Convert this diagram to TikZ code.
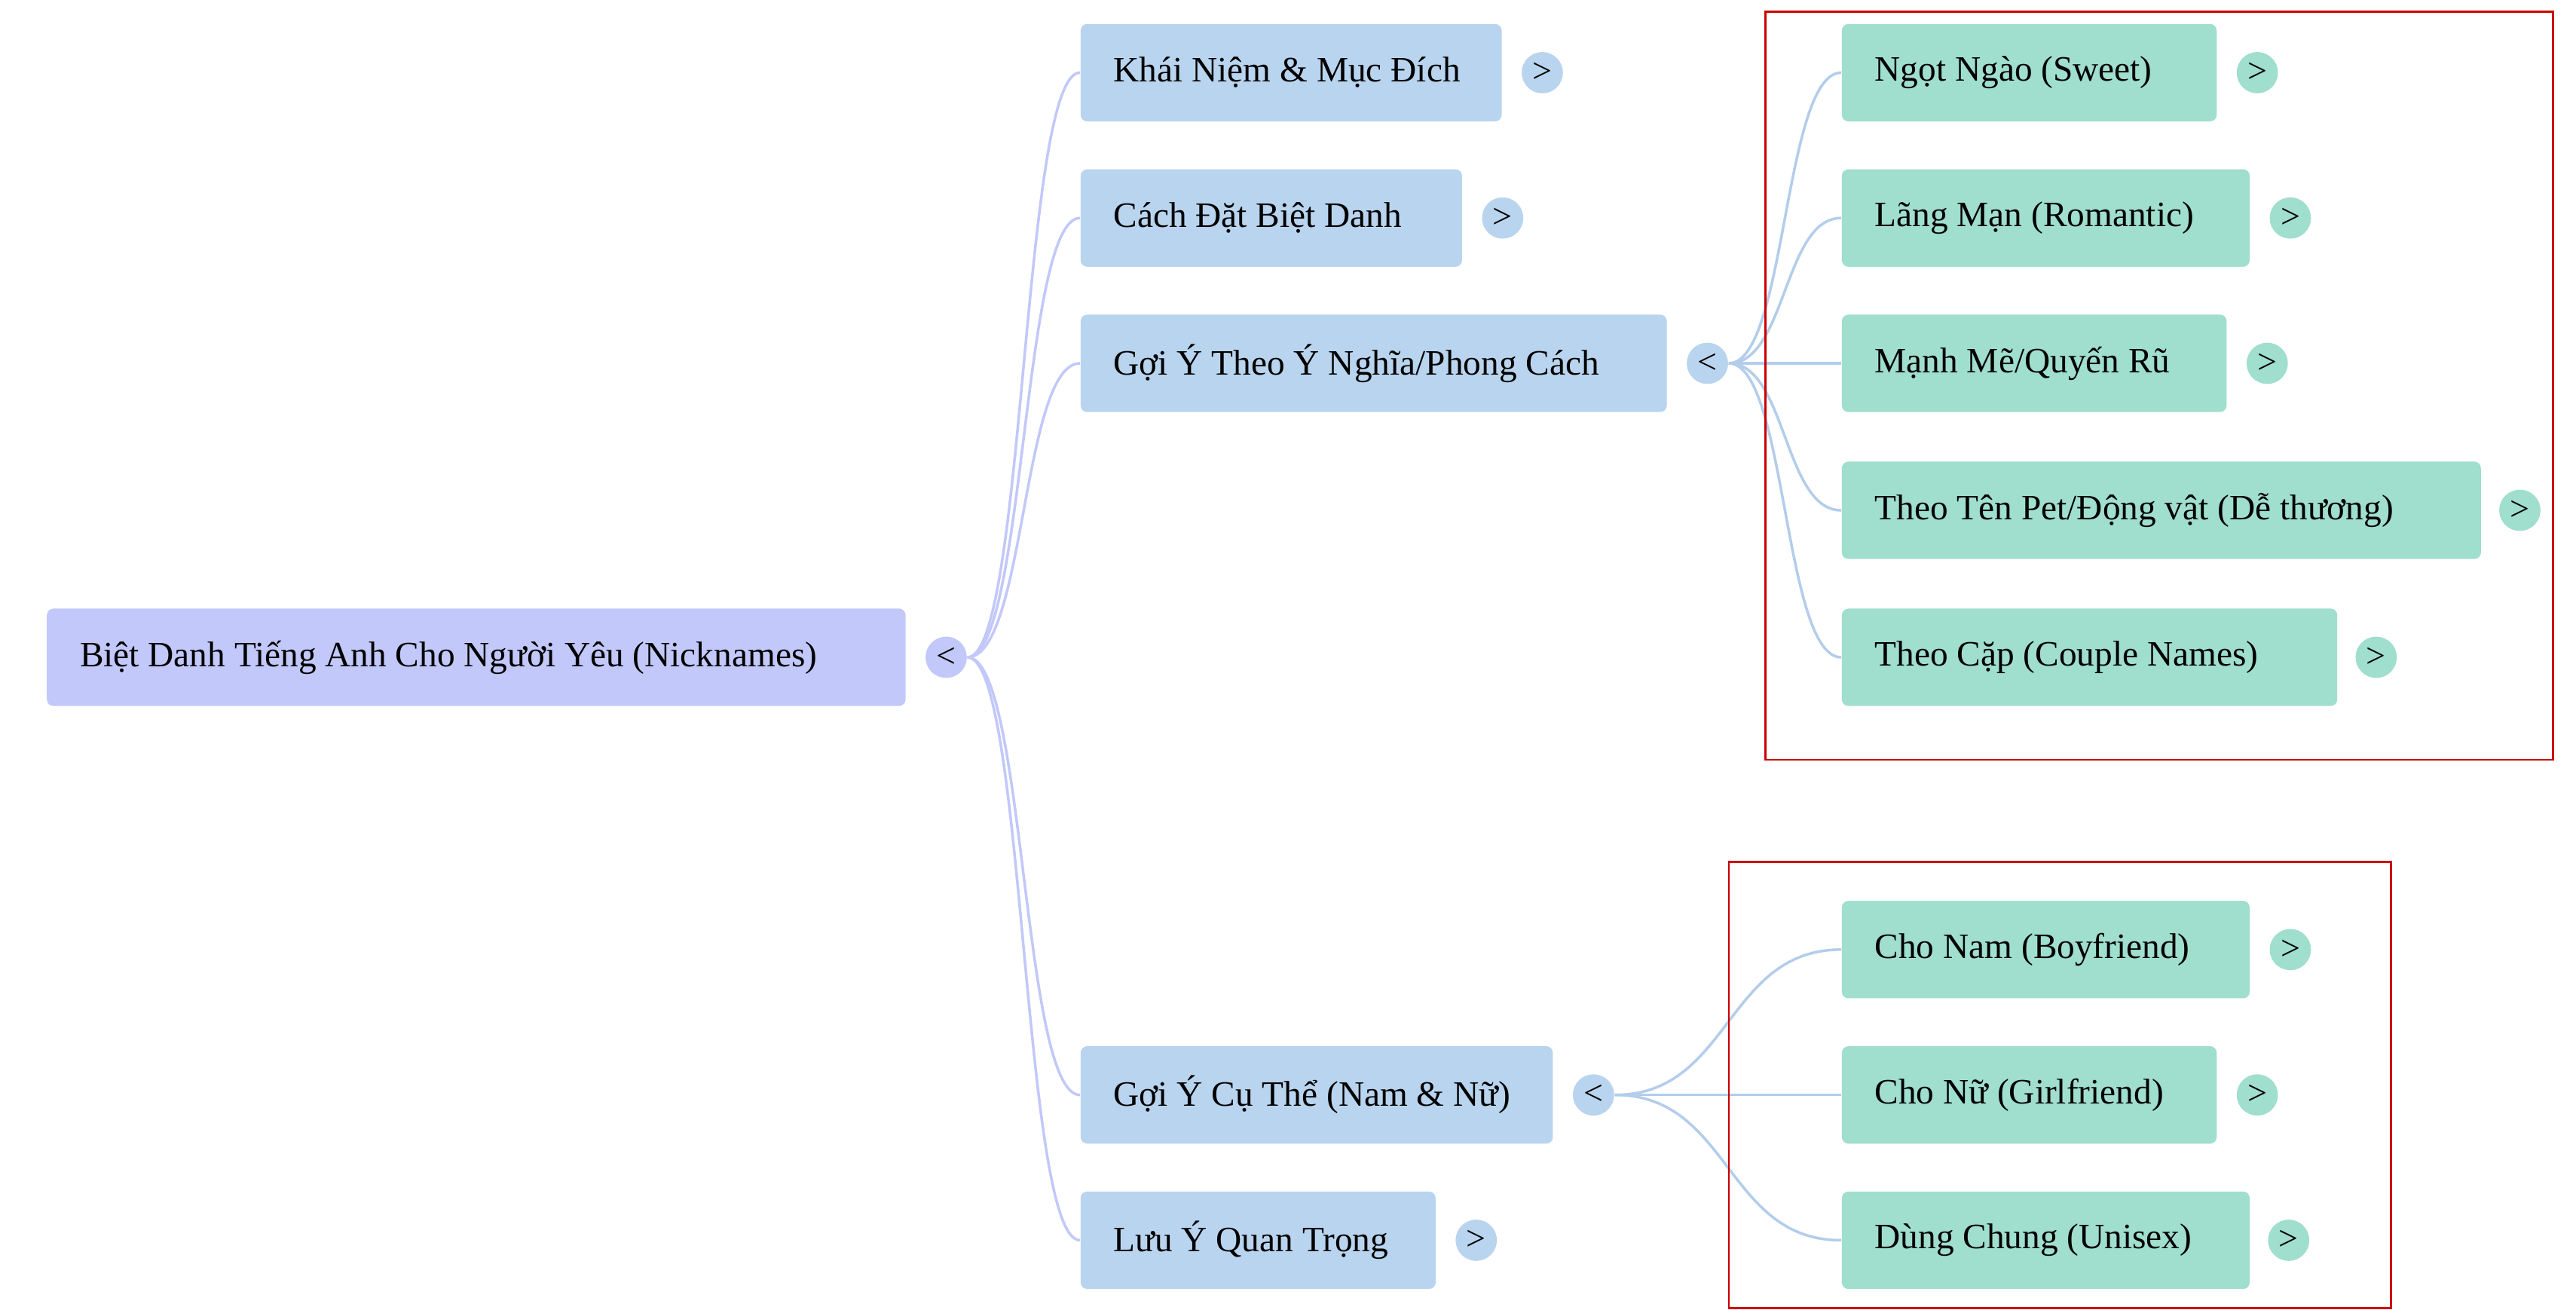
\documentclass[tikz,border=0pt]{standalone}
\usepackage{fontspec}
\setmainfont{Liberation Serif}
\begin{document}
\begin{tikzpicture}[x=0.5pt,y=-0.5pt,
 box/.style={anchor=west,rounded corners=2pt,minimum height=29.5pt,inner sep=0pt},
 txt/.style={anchor=west,inner sep=0pt,font=\fontsize{10.8}{13}\selectfont},
 rootb/.style={box,fill=rootc},
 l1/.style={box,fill=bluec},
 l2/.style={box,fill=greenc},
 tog/.style={circle,minimum size=12.5pt,inner sep=0pt,font=\fontsize{10.5}{12}\selectfont},
 tb/.style={tog,fill=bluec},
 tg/.style={tog,fill=greenc},
 tr/.style={tog,fill=rootc},
 e0/.style={draw=rootc,line width=0.8pt},
 e1/.style={draw=edgeb,line width=0.8pt},
 frame/.style={draw=red!80!black,line width=0.6pt}]
\definecolor{rootc}{HTML}{C2C8FA}
\definecolor{bluec}{HTML}{B9D4EE}
\definecolor{greenc}{HTML}{A0DECE}
\definecolor{edgeb}{HTML}{B3CDEB}
\useasboundingbox (0,0) rectangle (1560,793);
\fill[white] (0,0) rectangle (1560,793);
\node[rootb,minimum width=260pt] (root) at (28,398) {};
\node[tr] (rt) at (573,398) {<};
\node[l1,minimum width=127.5pt] (a) at (654,44) {};
\node[l1,minimum width=115.5pt] (b) at (654,132) {};
\node[l1,minimum width=177.5pt] (c) at (654,220) {};
\node[l1,minimum width=143pt] (d) at (654,663) {};
\node[l1,minimum width=107.5pt] (e) at (654,751) {};
\node[tb] (at) at (934,44) {>};
\node[tb] (bt) at (910,132) {>};
\node[tb] (ct) at (1034,220) {<};
\node[tb] (dt) at (965,663) {<};
\node[tb] (et) at (894,751) {>};
\node[l2,minimum width=113.5pt] (c1) at (1115,44) {};
\node[l2,minimum width=123.5pt] (c2) at (1115,132) {};
\node[l2,minimum width=116.5pt] (c3) at (1115,220) {};
\node[l2,minimum width=193.5pt] (c4) at (1115,309) {};
\node[l2,minimum width=150pt] (c5) at (1115,398) {};
\node[l2,minimum width=123.5pt] (d1) at (1115,575) {};
\node[l2,minimum width=113.5pt] (d2) at (1115,663) {};
\node[l2,minimum width=123.5pt] (d3) at (1115,751) {};
\node[txt] at ([xshift=10pt]root.west) {Biệt Danh Tiếng Anh Cho Người Yêu (Nicknames)};
\node[txt] at ([xshift=10pt]a.west) {Khái Niệm \& Mục Đích};
\node[txt] at ([xshift=10pt]b.west) {Cách Đặt Biệt Danh};
\node[txt] at ([xshift=10pt]c.west) {Gợi Ý Theo Ý Nghĩa/Phong Cách};
\node[txt] at ([xshift=10pt]d.west) {Gợi Ý Cụ Thể (Nam \& Nữ)};
\node[txt] at ([xshift=10pt]e.west) {Lưu Ý Quan Trọng};
\node[txt] at ([xshift=10pt]c1.west) {Ngọt Ngào (Sweet)};
\node[txt] at ([xshift=10pt]c2.west) {Lãng Mạn (Romantic)};
\node[txt] at ([xshift=10pt]c3.west) {Mạnh Mẽ/Quyến Rũ};
\node[txt] at ([xshift=10pt]c4.west) {Theo Tên Pet/Động vật (Dễ thương)};
\node[txt] at ([xshift=10pt]c5.west) {Theo Cặp (Couple Names)};
\node[txt] at ([xshift=10pt]d1.west) {Cho Nam (Boyfriend)};
\node[txt] at ([xshift=10pt]d2.west) {Cho Nữ (Girlfriend)};
\node[txt] at ([xshift=10pt]d3.west) {Dùng Chung (Unisex)};
\node[tg] (c1t) at (1367,44) {>};
\node[tg] (c2t) at (1387,132) {>};
\node[tg] (c3t) at (1373,220) {>};
\node[tg] (c4t) at (1526,309) {>};
\node[tg] (c5t) at (1439,398) {>};
\node[tg] (d1t) at (1387,575) {>};
\node[tg] (d2t) at (1367,663) {>};
\node[tg] (d3t) at (1386,751) {>};
\foreach \n in {a,b,c,d,e}
  \draw[e0] (rt.east) .. controls +(35,0) and +(-35,0) .. (\n.west);
\foreach \n in {c1,c2,c3,c4,c5}
  \draw[e1] (ct.east) .. controls +(35,0) and +(-35,0) .. (\n.west);
\foreach \n in {d1,d2,d3}
  \draw[e1] (dt.east) .. controls +(70,0) and +(-70,0) .. (\n.west);
\coordinate (f1a) at (1069,7); \coordinate (f1b) at (1546,460);
\coordinate (f2a) at (1047,522); \coordinate (f2b) at (1448,792);
\draw[frame] (f1a) rectangle (f1b);
\draw[frame] (f2a) rectangle (f2b);
\end{tikzpicture}
\end{document}
